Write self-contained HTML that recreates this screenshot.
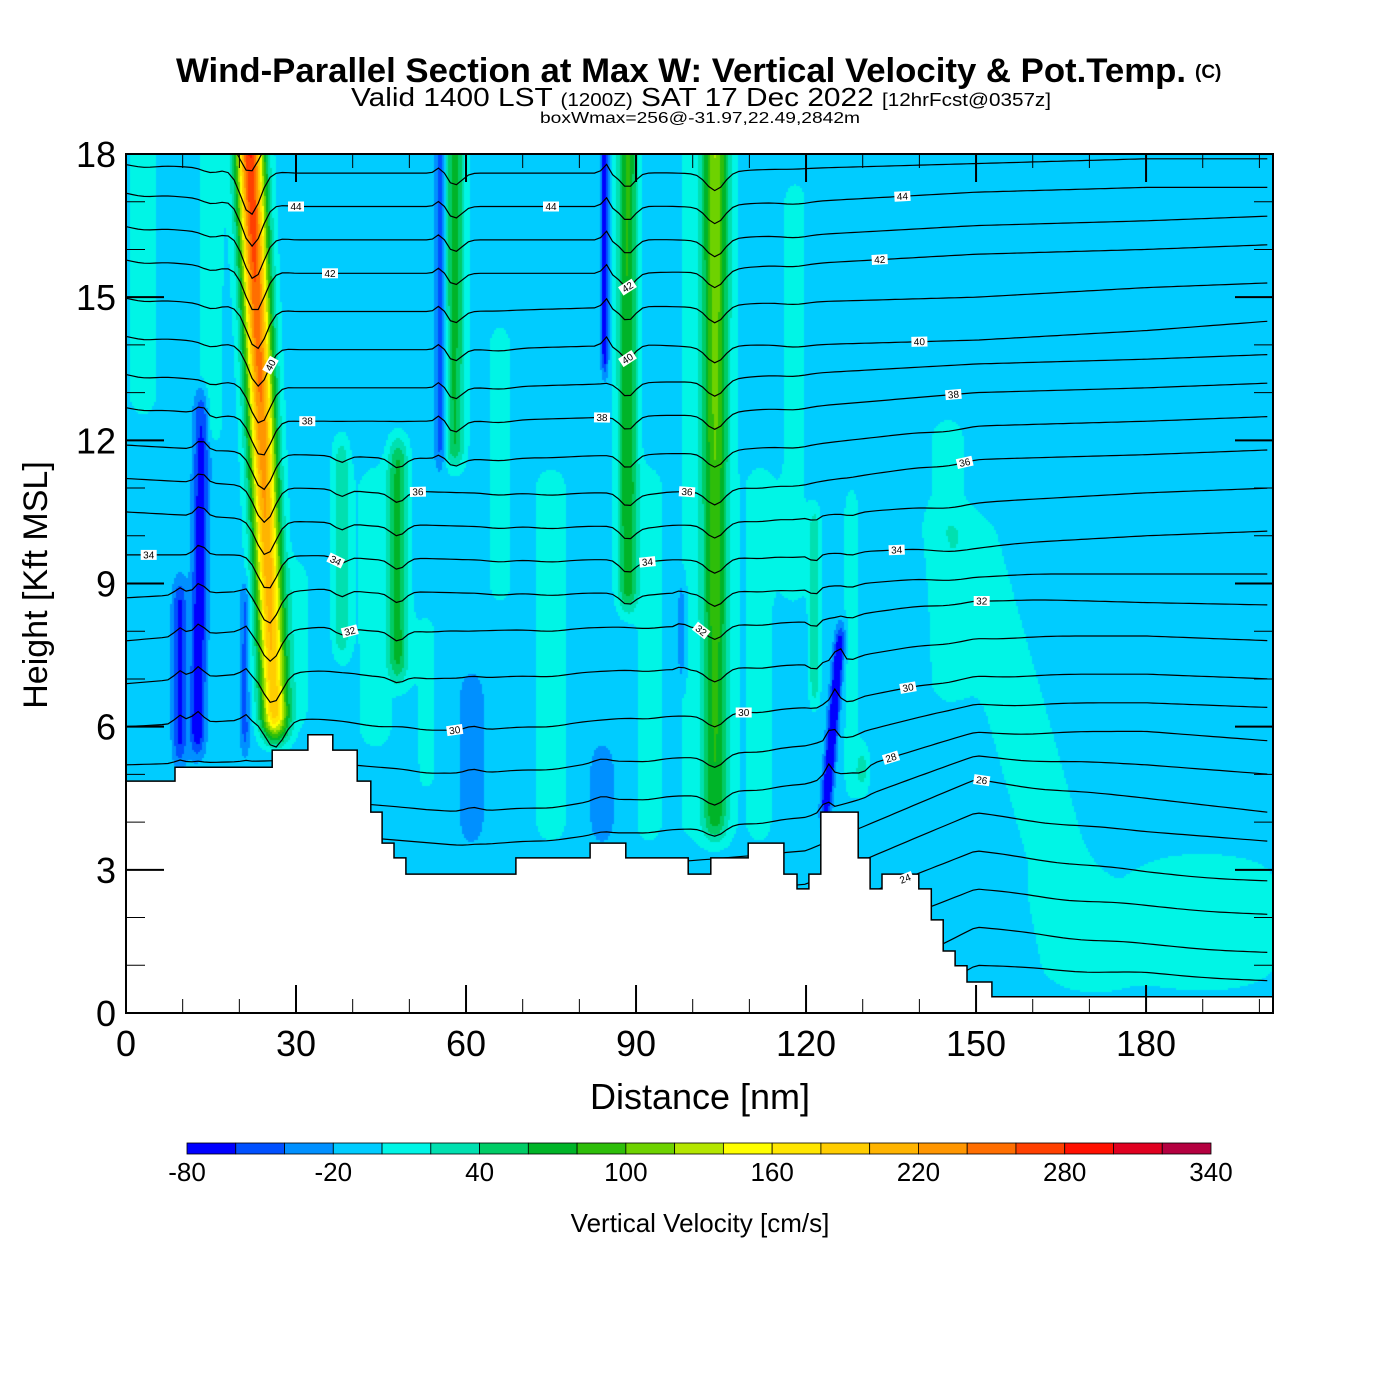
<!DOCTYPE html>
<html><head><meta charset="utf-8"><style>
html,body{margin:0;padding:0;background:#fff;}
#wrap{position:relative;width:1400px;height:1400px;overflow:hidden;background:#fff;}
canvas{position:absolute;left:126px;top:154px;}
svg{position:absolute;left:0;top:0;}
text{font-family:"Liberation Sans",sans-serif;}
</style></head><body>
<div id="wrap">
<canvas id="fld" width="1147" height="859"></canvas>
<svg id="svg" width="1400" height="1400">
<defs><clipPath id="plotclip"><rect x="126" y="154" width="1147" height="859"/></clipPath></defs>
<g>
<text x="176" y="82" font-size="34" font-weight="bold" textLength="1010" lengthAdjust="spacingAndGlyphs">Wind-Parallel Section at Max W: Vertical Velocity &amp; Pot.Temp.</text>
<text x="1195" y="78" font-size="19" font-weight="bold">(C)</text>
<text x="351" y="106" font-size="26" textLength="700" lengthAdjust="spacingAndGlyphs">Valid 1400 LST <tspan font-size="18">(1200Z)</tspan> SAT 17 Dec 2022 <tspan font-size="18">[12hrFcst@0357z]</tspan></text>
<text x="540" y="123" font-size="16" textLength="320" lengthAdjust="spacingAndGlyphs">boxWmax=256@-31.97,22.49,2842m</text>
</g>
<g id="contours" clip-path="url(#plotclip)"></g>
<g id="terrain"></g>
<g id="clabels"></g>
<g id="axes"></g>
<g id="cbar"></g>
<text x="700" y="1109" font-size="36" text-anchor="middle">Distance [nm]</text>
<text transform="translate(47,585) rotate(-90)" font-size="34" text-anchor="middle">Height [Kft MSL]</text>
<text x="700" y="1232" font-size="26" text-anchor="middle">Vertical Velocity [cm/s]</text>
</svg>
</div>
<script>
// ---- data ----
const cbLevels=[-80,-60,-40,-20,0,20,40,60,80,100,120,140,160,180,200,220,240,260,280,300,320,340];
const cbColors=["#0000ff","#0050ff","#0090ff","#00ccff","#00f5e6","#00e0b0","#00cc66","#00b428","#2ebe0a","#6ed200","#b4e600","#ffff00","#ffe600","#ffcd00","#ffb400","#ff9600","#ff6e00","#ff4000","#ff1000","#e00020","#b40040"];
const cbTickLabels=[-80,-20,40,100,160,220,280,340];
const xTicks=[0,30,60,90,120,150,180];
const yTicks=[0,3,6,9,12,15,18];
// plumes of vertical velocity (nm, kft, cm/s)
const plumeXB=[26.5,12.5,9.5,21,15,38,48,44,55.5,58,61,53,84.5,88.5,84,98,104,102,123,121.5,128,130,3,145,172,190,92,112,75,66,118,165,30];
const plumeXT=[21.5,13.5,9.5,21,15,38,48,44,55.5,58,61,53,84.5,88.5,84,98,104,102,126.5,121.5,128,130,3,145,146,190,92,112,75,66,118,165,30];
const plumeZB=[5.3,5.0,4.8,5.0,11.5,7,6.5,5,11,11,3.2,4,13,8,3.2,6.5,3.2,3,3.6,6,4,4.2,12,6,0,0,3,3,3,8,8,0,5.5];
const plumeZT=[19,13.5,9.5,9.5,19,12.5,12.5,12,19,19,7.5,9,19,19,6,9.5,19,19,8.5,11,11.5,6,19,13,11,3.8,12,12,12,15,18,3.2,10];
const plumeAB=[190,-75,-55,-40,28,45,70,16,-45,70,-30,12,-75,80,-30,-30,70,15,-85,45,18,40,18,16,18,22,14,14,15,14,14,6,16];
const plumeAT=[300,-60,-55,-40,28,45,70,16,-45,80,-30,12,-75,95,-30,-30,120,15,-85,45,18,40,18,16,18,22,14,14,15,14,14,6,16];
const plumeSig=[2.4,1.3,1.2,0.8,2,1.5,1.8,4,1,1.8,2,3,0.6,1.8,2,0.7,2.2,6,0.9,1.0,1.5,1.2,3,4,7,14,3,3,4,3,3,8,3];
// terrain step profile
const terrEdges=[0,8.65,25.8,32.1,36.5,40.8,43.2,45.2,47.3,49.4,68.8,81.9,88.2,99.2,103.2,109.8,116.1,118.4,120.5,122.6,129.2,131.3,133.4,139.9,142.1,144.2,146.3,148.4,152.8,202.4];
const terrZ=[4.86,5.15,5.51,5.83,5.51,4.86,4.21,3.56,3.25,2.91,3.25,3.56,3.25,2.91,3.25,3.56,2.91,2.60,2.91,4.21,3.25,2.60,2.91,2.60,1.95,1.30,0.99,0.65,0.34];
// potential temperature level heights (kft) at control distances
const thetaX=[0,30,60,90,120,150,180,202];
const thetaLevels=[21,22,23,24,25,26,27,28,29,30,31,32,33,34,35,36,37,38,39,40,41,42,43,44,45,46];
const thetaH=[
[-2,-2,-2,-1,-1,1.0,0.9,0.7],
[-1,-1,-1,0,0,1.8,1.5,1.3],
[0,0,0,0.8,1.2,2.6,2.3,2.1],
[1.0,1.0,1.0,1.6,2.0,3.4,3.0,2.8],
[2.0,2.0,2.0,2.4,2.7,4.2,3.8,3.6],
[3.0,3.0,2.8,3.1,3.4,4.9,4.5,4.2],
[3.8,3.8,3.5,3.8,4.1,5.4,5.2,5.0],
[4.5,4.5,4.2,4.5,4.8,5.9,5.9,5.7],
[5.2,5.3,5.0,5.3,5.6,6.5,6.5,6.4],
[6.0,6.2,5.9,6.2,6.4,7.1,7.1,7.0],
[6.9,7.2,7.0,7.2,7.3,7.9,7.9,7.8],
[7.8,8.1,8.0,8.1,8.2,8.7,8.6,8.55],
[8.7,8.9,8.8,8.8,8.9,9.2,9.2,9.2],
[9.6,9.6,9.5,9.5,9.6,9.8,10.0,10.1],
[10.5,10.3,10.2,10.2,10.4,10.7,10.9,11.0],
[11.2,11.0,10.9,10.9,11.1,11.6,11.7,11.8],
[11.9,11.7,11.6,11.7,11.9,12.3,12.4,12.5],
[12.7,12.4,12.4,12.5,12.7,13.0,13.1,13.2],
[13.4,13.1,13.1,13.2,13.4,13.6,13.7,13.8],
[14.2,13.9,13.9,14.0,14.0,14.1,14.3,14.5],
[15.0,14.7,14.7,14.8,14.9,15.0,15.2,15.3],
[15.8,15.5,15.5,15.5,15.7,15.9,16.0,16.1],
[16.5,16.2,16.2,16.2,16.3,16.5,16.6,16.7],
[17.2,16.9,16.9,16.9,17.0,17.2,17.3,17.3],
[17.8,17.6,17.6,17.6,17.7,17.8,17.9,17.9],
[18.4,18.3,18.3,18.3,18.4,18.4,18.5,18.5]];
const labelLevels=[44,42,40,38,36,34,32,30,34,44,42,40,38,36,34,32,30,44,42,40,38,36,34,32,30,28,26,24];
const labelX=[30,36,25.5,32,51.5,37,39.5,58,4,75,88.5,88.5,84,99,92,101.5,109,137,133,140,146,148,136,151,138,135,151,137.5];

// ---- scales ----
const X0=126,X1=1273,Y0=1013,Y1=154,XMAX=202.4,ZMAX=18;
const sx=v=>X0+v*(X1-X0)/XMAX;
const sy=v=>Y0-v*(Y0-Y1)/ZMAX;
const NS="http://www.w3.org/2000/svg";
function mk(tag,attrs,parent){const e=document.createElementNS(NS,tag);for(const k in attrs)e.setAttribute(k,attrs[k]);parent.appendChild(e);return e;}
function ss(a,b,t){t=Math.max(0,Math.min(1,(t-a)/(b-a)));return t*t*(3-2*t);}
function pert(x,z){let v=0;for(let i=0;i<plumeXB.length;i++){const zb=plumeZB[i],zt=plumeZT[i];if(z<zb||z>zt)continue;const t=(z-zb)/(zt-zb);const xc=plumeXB[i]+(plumeXT[i]-plumeXB[i])*t;const d=(x-xc)/plumeSig[i];if(d>4||d<-4)continue;const f=ss(zb,zb+1,z)*(1-ss(zt-1,zt,z));v+=(plumeAB[i]+(plumeAT[i]-plumeAB[i])*t)*Math.exp(-d*d)*f;}return v;}
function wval(x,z){return -10+pert(x,z);}
function colorIdx(v){for(let i=0;i<cbColors.length;i++){if(v<cbLevels[i+1])return i;}return cbColors.length-1;}

// ---- field ----
(function(){const cv=document.getElementById('fld');const ctx=cv.getContext('2d');const W=cv.width,H=cv.height;const img=ctx.createImageData(W,H);const rgb=cbColors.map(c=>[parseInt(c.substr(1,2),16),parseInt(c.substr(3,2),16),parseInt(c.substr(5,2),16)]);
for(let py=0;py<H;py+=2){const z=ZMAX*(1-(py+1)/H);for(let px=0;px<W;px+=2){const x=XMAX*(px+1)/W;const c=rgb[colorIdx(wval(x,z))];for(let dy=0;dy<2&&py+dy<H;dy++)for(let dx=0;dx<2&&px+dx<W;dx++){const o=((py+dy)*W+px+dx)*4;img.data[o]=c[0];img.data[o+1]=c[1];img.data[o+2]=c[2];img.data[o+3]=255;}}}
ctx.putImageData(img,0,0);})();

// ---- theta contours ----
function baseH(li,x){const h=thetaH[li];for(let j=0;j<thetaX.length-1;j++){if(x<=thetaX[j+1]){const t=(x-thetaX[j])/(thetaX[j+1]-thetaX[j]);return h[j]+(h[j+1]-h[j])*t;}}return h[h.length-1];}
function thetaZ(li,x){const b=baseH(li,x);return b-0.0032*pert(x,b);}
const gC=document.getElementById('contours');
thetaLevels.forEach((lv,li)=>{let d="";for(let x=0;x<=XMAX+0.01;x+=1.06){const z=thetaZ(li,Math.min(x,XMAX));d+=(d?"L":"M")+sx(Math.min(x,XMAX)).toFixed(1)+","+sy(z).toFixed(1);}
const p=mk('path',{d:d,fill:'none',stroke:'#000','stroke-width':1.2},gC);

});

// ---- terrain ----
(function(){const g=document.getElementById('terrain');let d="M"+sx(0)+","+sy(0);for(let i=0;i<terrZ.length;i++){d+="L"+sx(terrEdges[i]).toFixed(1)+","+sy(terrZ[i]).toFixed(1)+"L"+sx(terrEdges[i+1]).toFixed(1)+","+sy(terrZ[i]).toFixed(1);}d+="L"+sx(XMAX)+","+sy(0)+"Z";
const p=mk('path',{d:d,fill:'#fff',stroke:'#000','stroke-width':1.5},g);

})();

// ---- contour labels ----
(function(){const g=document.getElementById('clabels');labelLevels.forEach((lv,i)=>{const li=thetaLevels.indexOf(lv);const x=labelX[i];const z=thetaZ(li,x);const z2=thetaZ(li,x+1);const ang=Math.atan2(sy(z2)-sy(z),sx(x+1)-sx(x))*180/Math.PI;const gg=mk('g',{transform:`translate(${sx(x).toFixed(1)},${sy(z).toFixed(1)}) rotate(${ang.toFixed(1)})`},g);


mk('rect',{x:-8,y:-5,width:16,height:10,fill:'#fff'},gg);const t=mk('text',{x:0,y:3.5,'font-size':10,'text-anchor':'middle'},gg);t.textContent=lv;});})();

// ---- axes ----
(function(){const g=document.getElementById('axes');
const r=mk('rect',{x:X0,y:Y1,width:X1-X0,height:Y0-Y1,fill:'none',stroke:'#000','stroke-width':2},g);


for(let v=0;v<=XMAX;v+=10){const maj=v%30===0;const L=maj?28:14;const X=sx(v);mk('line',{x1:X,y1:Y0,x2:X,y2:Y0-L,stroke:'#000','stroke-width':maj?2:1},g);mk('line',{x1:X,y1:Y1,x2:X,y2:Y1+L,stroke:'#000','stroke-width':maj?2:1},g);}
for(let v=0;v<=ZMAX;v+=1){const maj=v%3===0;const L=maj?38:19;const Y=sy(v);mk('line',{x1:X0,y1:Y,x2:X0+L,y2:Y,stroke:'#000','stroke-width':maj?2:1},g);mk('line',{x1:X1,y1:Y,x2:X1-L,y2:Y,stroke:'#000','stroke-width':maj?2:1},g);}
xTicks.forEach(v=>{const t=mk('text',{x:sx(v),y:1056,'font-size':36,'text-anchor':'middle'},g);t.textContent=v;

});
yTicks.forEach(v=>{const t=mk('text',{x:116,y:sy(v)+13,'font-size':36,'text-anchor':'end'},g);t.textContent=v;

});})();

// ---- colorbar ----
(function(){const g=document.getElementById('cbar');const cx0=187,cx1=1211,cy=1143,ch=11;const n=cbColors.length;const bw=(cx1-cx0)/n;const cbx=v=>cx0+(v-cbLevels[0])/(cbLevels[n]-cbLevels[0])*(cx1-cx0);
cbColors.forEach((c,i)=>{const r=mk('rect',{x:cbx(cbLevels[i]),y:cy,width:bw,height:ch,fill:c,stroke:'#000','stroke-width':0.8},g);

});
cbTickLabels.forEach(v=>{const t=mk('text',{x:cbx(v),y:1181,'font-size':26,'text-anchor':'middle'},g);t.textContent=v;

});})();
</script>
</body></html>
